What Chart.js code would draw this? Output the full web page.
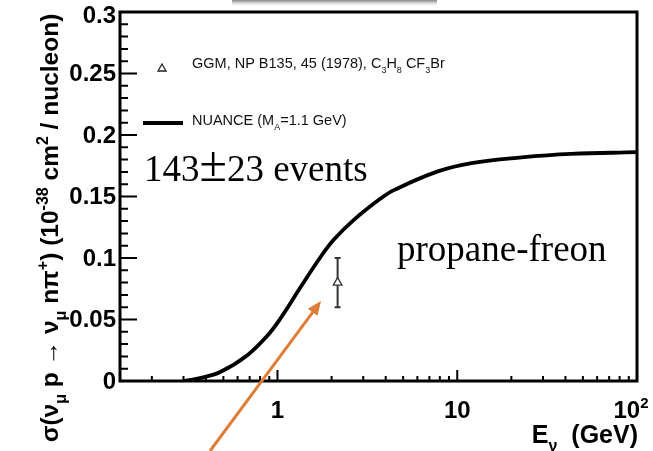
<!DOCTYPE html>
<html>
<head>
<meta charset="utf-8">
<script src="https://cdn.jsdelivr.net/npm/chart.js@4.4.0/dist/chart.umd.min.js"></script>
<style>
  html, body { margin: 0; padding: 0; background: #fff; }
  #wrap { width: 653px; height: 451px; position: relative; }
</style>
</head>
<body>
<div id="wrap"><canvas id="xsecChart"></canvas></div>
<script>
// NUANCE prediction (M_A = 1.1 GeV)
const energy = [0.30, 0.37, 0.48, 0.68, 0.88, 1.04, 1.34, 1.74, 2.06, 2.66, 3.76, 4.47, 7.8, 12, 22.8, 43, 100];
const sigma = [0, 0.0024, 0.0073, 0.021, 0.037, 0.051, 0.076, 0.101, 0.115, 0.131, 0.1485, 0.1554, 0.1704, 0.1772, 0.1818, 0.1846, 0.186];

// GGM measurement
const ggmEnergy = [2.16];
const ggmSigma = [0.08];
const ggmError = [0.02];

// axis ticks
const yMajorTicks = [0, 0.05, 0.1, 0.15, 0.2, 0.25, 0.3];
const yTickLabels = ['0', '0.05', '0.1', '0.15', '0.2', '0.25', '0.3'];
const xMajorTicks = [1, 10, 100];
const xTickLabels = ['1', '10', '10'];
const xMinorTicks = [0.2, 0.3, 0.4, 0.5, 0.6, 0.7, 0.8, 0.9, 2, 3, 4, 5, 6, 7, 8, 9, 20, 30, 40, 50, 60, 70, 80, 90];

const SANS = '"Liberation Sans", Arial, Helvetica, sans-serif';
const SERIF = '"Liberation Serif", "Times New Roman", serif';

function partFont(p, size, weight, fam) {
  const s = p[1] === 'big' ? Math.round(size * 1.35) : p[1] ? Math.round(size * 0.64) : size;
  return weight + ' ' + s + 'px ' + fam;
}

function richWidth(ctx, parts, size, weight, fam) {
  let w = 0;
  parts.forEach(p => {
    ctx.font = partFont(p, size, weight, fam);
    w += ctx.measureText(p[0]).width;
  });
  return w;
}

function drawRich(ctx, parts, x, y, size, weight, fam) {
  let cx = x;
  parts.forEach(p => {
    ctx.font = partFont(p, size, weight, fam);
    let dy = 0;
    if (p[1] === 'sub') dy = size * 0.32;
    if (p[1] === 'sup') dy = -size * 0.42;
    ctx.fillText(p[0], cx, y + dy);
    cx += ctx.measureText(p[0]).width;
  });
}

const errorBars = {
  id: 'errorBars',
  beforeDatasetsDraw(chart) {
    const ctx = chart.ctx;
    const xs = chart.scales.x, ys = chart.scales.y;
    ctx.save();
    ctx.strokeStyle = '#333';
    ctx.lineWidth = 2;
    ggmEnergy.forEach((e, i) => {
      const px = xs.getPixelForValue(e);
      const top = ys.getPixelForValue(ggmSigma[i] + ggmError[i]);
      const bot = ys.getPixelForValue(ggmSigma[i] - ggmError[i]);
      ctx.beginPath();
      ctx.moveTo(px, top); ctx.lineTo(px, bot);
      ctx.moveTo(px - 3, top); ctx.lineTo(px + 3, top);
      ctx.moveTo(px - 3, bot); ctx.lineTo(px + 3, bot);
      ctx.stroke();
    });
    ctx.restore();
  }
};

const decorations = {
  id: 'decorations',
  beforeDraw(chart) {
    const ctx = chart.ctx;
    // faint gray shadow at the top edge of the slide
    ctx.save();
    const g = ctx.createLinearGradient(0, 0, 0, 6);
    g.addColorStop(0, 'rgba(110,110,110,0.85)');
    g.addColorStop(1, 'rgba(200,200,200,0)');
    ctx.fillStyle = g;
    ctx.fillRect(232, 0, 205, 6);
    ctx.restore();
  },
  afterDraw(chart) {
    const ctx = chart.ctx;
    const a = chart.chartArea;
    const xs = chart.scales.x, ys = chart.scales.y;
    ctx.save();

    // frame
    ctx.strokeStyle = '#000';
    ctx.lineWidth = 3;
    ctx.strokeRect(a.left, a.top, a.right - a.left, a.bottom - a.top);

    // y ticks (inward)
    ctx.lineWidth = 2;
    ctx.beginPath();
    for (let k = 0; k <= 30; k++) {
      const v = k / 100;
      const py = ys.getPixelForValue(v);
      const len = (k % 5 === 0) ? 17 : 8;
      ctx.moveTo(a.left, py); ctx.lineTo(a.left + len, py);
    }
    // x ticks (inward)
    xMajorTicks.forEach(v => {
      const px = xs.getPixelForValue(v);
      ctx.moveTo(px, a.bottom); ctx.lineTo(px, a.bottom - 11);
    });
    xMinorTicks.forEach(v => {
      const px = xs.getPixelForValue(v);
      ctx.moveTo(px, a.bottom); ctx.lineTo(px, a.bottom - 5);
    });
    ctx.stroke();

    // tick labels
    ctx.fillStyle = '#000';
    ctx.font = 'bold 24px ' + SANS;
    ctx.textAlign = 'right';
    ctx.textBaseline = 'middle';
    yMajorTicks.forEach((v, i) => {
      let py = ys.getPixelForValue(v);
      if (i === yMajorTicks.length - 1) py += 3;
      ctx.fillText(yTickLabels[i], a.left - 4, py + 1);
    });
    ctx.textBaseline = 'alphabetic';
    ctx.textAlign = 'left';
    xMajorTicks.forEach((v, i) => {
      const px = xs.getPixelForValue(v);
      const parts = i === 2 ? [['10', ''], ['2', 'sup']] : [[xTickLabels[i], '']];
      const w = richWidth(ctx, parts, 24, 'bold', SANS);
      const shift = i === 2 ? -6 : 0;
      drawRich(ctx, parts, px - w / 2 + shift, 418, 24, 'bold', SANS);
    });

    // x title
    const xTitle = [['E', ''], ['\u03bd', 'sub'], ['  (GeV)', '']];
    const xw = richWidth(ctx, xTitle, 25, 'bold', SANS);
    drawRich(ctx, xTitle, 638 - xw, 443, 25, 'bold', SANS);

    // y title, rotated
    const yTitle = [['\u03c3(\u03bd', ''], ['\u03bc', 'sub'], [' p \u2192 \u03bd', ''], ['\u03bc', 'sub'],
      [' n\u03c0', ''], ['+', 'sup'], [') (10', ''], ['-38', 'sup'], [' cm', ''], ['2', 'sup'], [' / nucleon)', '']];
    const yw = richWidth(ctx, yTitle, 24.5, 'bold', SANS);
    ctx.save();
    ctx.translate(58, 228);
    ctx.rotate(-Math.PI / 2);
    drawRich(ctx, yTitle, -yw / 2, 0, 24.5, 'bold', SANS);
    ctx.restore();

    // legend
    ctx.strokeStyle = '#222';
    ctx.lineWidth = 1.3;
    ctx.beginPath();
    ctx.moveTo(162, 64); ctx.lineTo(166, 71); ctx.lineTo(158, 71); ctx.closePath();
    ctx.stroke();
    ctx.fillStyle = '#111';
    drawRich(ctx, [['GGM, NP B135, 45 (1978), C', ''], ['3', 'sub'], ['H', ''], ['8', 'sub'],
      [' CF', ''], ['3', 'sub'], ['Br', '']], 192, 68, 14.5, 'normal', SANS);
    ctx.strokeStyle = '#000';
    ctx.lineWidth = 4;
    ctx.beginPath();
    ctx.moveTo(143, 123); ctx.lineTo(183, 123);
    ctx.stroke();
    drawRich(ctx, [['NUANCE (M', ''], ['A', 'sub'], ['=1.1 GeV)', '']], 192, 125, 14.5, 'normal', SANS);

    // annotations
    ctx.fillStyle = '#000';
    drawRich(ctx, [['143', ''], ['\u00b1', 'big'], ['23 events', '']], 144, 181, 37, 'normal', SERIF);
    ctx.font = '37px ' + SERIF;
    ctx.fillText('propane-freon', 397, 261);

    // orange arrow
    const x0 = 210, y0 = 451, x1 = 321, y1 = 301;
    const ang = Math.atan2(y1 - y0, x1 - x0);
    ctx.strokeStyle = 'rgb(222,125,55)';
    ctx.fillStyle = 'rgb(222,125,55)';
    ctx.lineWidth = 3;
    ctx.beginPath();
    ctx.moveTo(x0, y0);
    ctx.lineTo(x1 - 10 * Math.cos(ang), y1 - 10 * Math.sin(ang));
    ctx.stroke();
    ctx.beginPath();
    ctx.moveTo(x1, y1);
    ctx.lineTo(x1 - 14 * Math.cos(ang) + 6 * Math.sin(ang), y1 - 14 * Math.sin(ang) - 6 * Math.cos(ang));
    ctx.lineTo(x1 - 14 * Math.cos(ang) - 6 * Math.sin(ang), y1 - 14 * Math.sin(ang) + 6 * Math.cos(ang));
    ctx.closePath();
    ctx.fill();

    ctx.restore();
  }
};

const ctx = document.getElementById('xsecChart').getContext('2d');
new Chart(ctx, {
  type: 'scatter',
  data: {
    datasets: [
      {
        label: 'NUANCE (MA=1.1 GeV)',
        data: energy.map((e, i) => ({ x: e, y: sigma[i] })),
        showLine: true,
        borderColor: '#000',
        borderWidth: 3.8,
        pointRadius: 0,
        tension: 0.4,
        fill: false,
      },
      {
        label: 'GGM, NP B135, 45 (1978)',
        data: ggmEnergy.map((e, i) => ({ x: e, y: ggmSigma[i] })),
        pointStyle: 'triangle',
        pointRadius: 5,
        backgroundColor: '#fff',
        borderColor: '#333',
        borderWidth: 1.3,
      }
    ]
  },
  options: {
    responsive: true,
    maintainAspectRatio: false,
    animation: false,
    devicePixelRatio: 1,
    layout: { padding: { left: 120, right: 16, top: 12, bottom: 70 } },
    scales: {
      x: { type: 'logarithmic', min: 0.133, max: 100, display: false },
      y: { type: 'linear', min: 0, max: 0.3, display: false }
    },
    plugins: {
      legend: { display: false },
      tooltip: { enabled: false }
    }
  },
  plugins: [errorBars, decorations]
});
</script>
</body>
</html>
